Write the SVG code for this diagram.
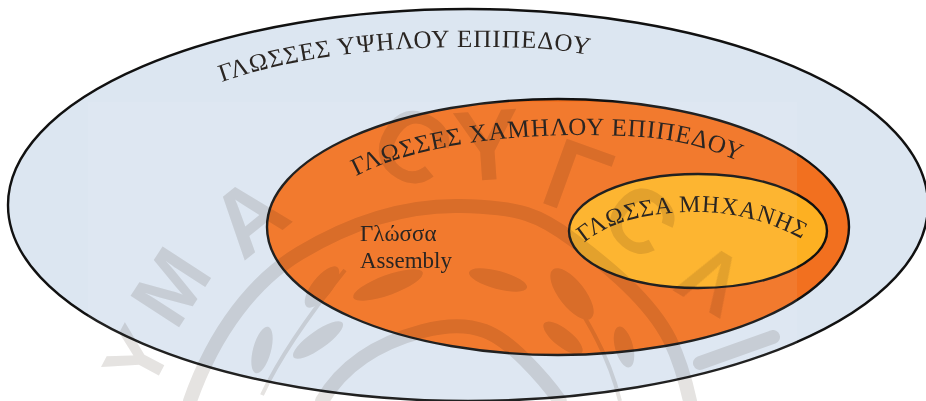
<svg xmlns="http://www.w3.org/2000/svg" width="926" height="401" viewBox="0 0 926 401">
<style>
.e{stroke:#111;stroke-width:2.4}
.t{font-family:"Liberation Serif","Noto Sans",serif;fill:#2a2522}
.w{fill:#e5e3e1}
.a{fill:none;stroke:#e5e3e1;stroke-width:14;stroke-linecap:round}
.s{fill:none;stroke:#e5e3e1;stroke-width:4}
.l{font-family:"Liberation Sans",sans-serif;font-weight:bold;fill:#e5e3e1}
</style>
<defs>
<path id="p1" d="M222 82C290 58 380 47 460 47S560 48 610 60"/>
<path id="p2" d="M356 176C410 148 500 134 590 135S700 145 760 170"/>
<path id="p3" d="M584 243C612 220 650 213 690 212S775 220 820 250"/>
<clipPath id="c"><rect x="0" y="103" width="926" height="298"/></clipPath>
</defs>
<rect width="926" height="401" fill="#fff"/>
<g id="outer"><ellipse class="e" cx="468" cy="205" rx="460" ry="196" fill="#dce6f1"/></g>
<g id="middle"><ellipse class="e" cx="558" cy="227" rx="291" ry="128" fill="#f2701f"/></g>
<g id="inner"><ellipse class="e" cx="698" cy="231" rx="129" ry="57" fill="#fdb022"/></g>
<rect x="88" y="102" width="709" height="299" fill="#fff" opacity=".07"/>
<g id="watermark" clip-path="url(#c)" style="mix-blend-mode:multiply">
<path class="a" d="M190 401C215 330 255 280 300 253S400 205 460 206S540 215 573 240S650 300 670 340Q682 365 690 401"/>
<path class="a" d="M322 401C340 370 370 345 423 331S500 335 525 360Q545 380 560 401"/>
<path class="s" d="M262 395Q285 345 345 270M585 318Q610 360 620 401"/>
<ellipse class="w" cx="322" cy="287" rx="25" ry="10" transform="rotate(-52 322 287)"/>
<ellipse class="w" cx="388" cy="285" rx="37" ry="10" transform="rotate(-20 388 285)"/>
<ellipse class="w" cx="262" cy="350" rx="24" ry="9" transform="rotate(-75 262 350)"/>
<ellipse class="w" cx="318" cy="340" rx="30" ry="9" transform="rotate(-35 318 340)"/>
<ellipse class="w" cx="498" cy="280" rx="30" ry="9" transform="rotate(15 498 280)"/>
<ellipse class="w" cx="572" cy="294" rx="31" ry="13" transform="rotate(52 572 294)"/>
<ellipse class="w" cx="563" cy="338" rx="24" ry="9" transform="rotate(38 563 338)"/>
<ellipse class="w" cx="624" cy="347" rx="21" ry="9" transform="rotate(75 624 347)"/>
<path class="a" d="M700 363L773 337"/>
<text class="l" font-size="84" transform="translate(176 332) rotate(-57)">Μ</text>
<text class="l" font-size="92" transform="translate(243 262) rotate(-39)">Α</text>
<text class="l" font-size="80" transform="translate(149 394) rotate(-62)">Υ</text>
<text class="l" font-size="100" transform="translate(364 158) rotate(30)">C</text>
<text class="l" font-size="100" transform="translate(456 182) rotate(-4)">Υ</text>
<text class="l" font-size="100" transform="translate(537 201) rotate(20)">Γ</text>
<text class="l" font-size="90" transform="translate(596 223) rotate(40)">C</text>
<text class="l" font-size="85" transform="translate(672 290) rotate(31)">Λ</text>
</g>
<g id="labels">
<text class="t" font-size="25" letter-spacing="1"><textPath href="#p1">ΓΛΩΣΣΕΣ ΥΨΗΛΟΥ ΕΠΙΠΕΔΟΥ</textPath></text>
<text class="t" font-size="25" letter-spacing=".9"><textPath href="#p2">ΓΛΩΣΣΕΣ ΧΑΜΗΛΟΥ ΕΠΙΠΕΔΟΥ</textPath></text>
<text class="t" font-size="24" letter-spacing=".9"><textPath href="#p3">ΓΛΩΣΣΑ ΜΗΧΑΝΗΣ</textPath></text>
<text class="t" font-size="23" x="360" y="241">Γλώσσα</text>
<text class="t" font-size="23" x="360" y="268">Assembly</text>
</g>
</svg>
